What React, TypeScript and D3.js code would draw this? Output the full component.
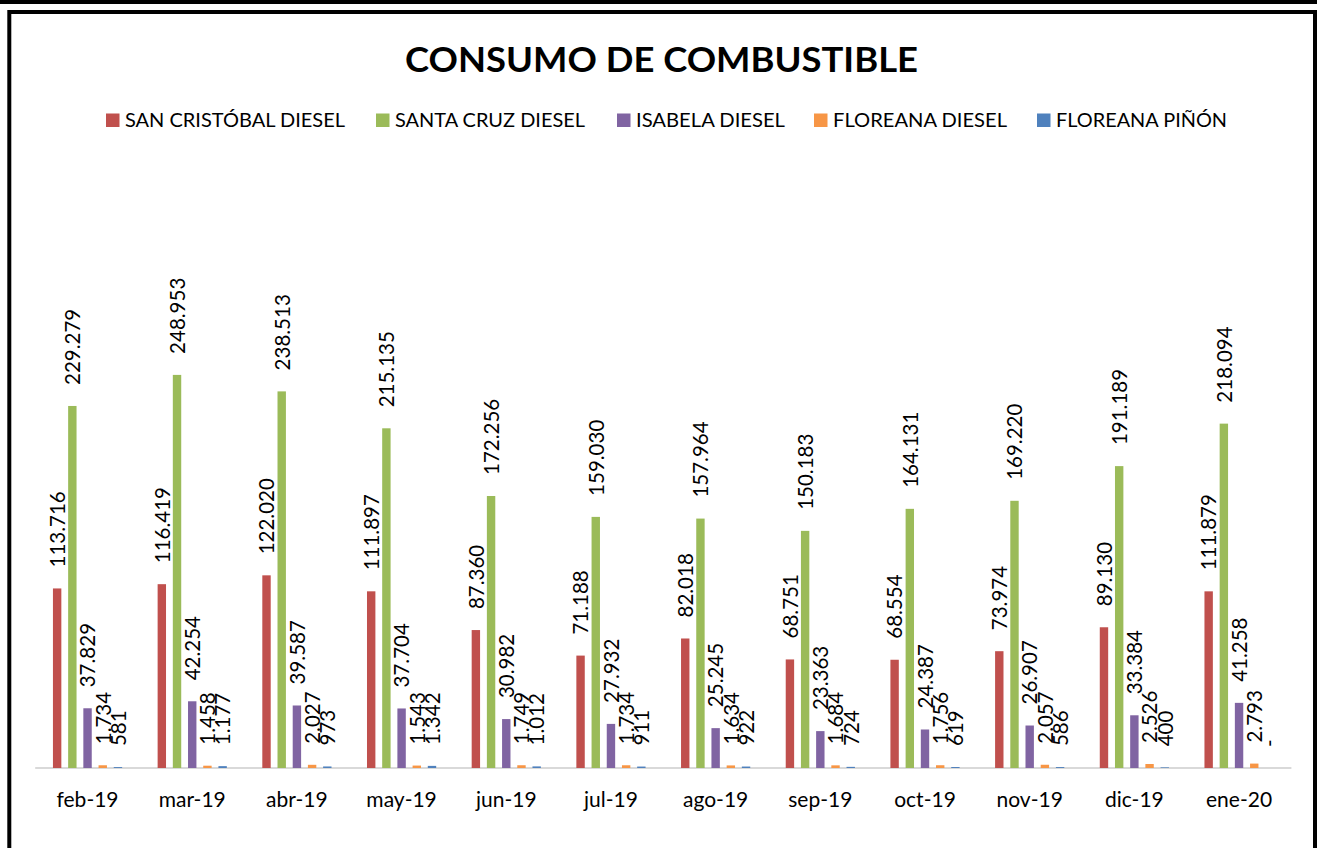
import React from "react";
import * as d3 from "d3";

const categories = ["feb-19", "mar-19", "abr-19", "may-19", "jun-19", "jul-19", "ago-19", "sep-19", "oct-19", "nov-19", "dic-19", "ene-20"];
const seriesNames = ["SAN CRISTÓBAL DIESEL", "SANTA CRUZ DIESEL", "ISABELA DIESEL", "FLOREANA DIESEL", "FLOREANA PIÑÓN"];
const seriesColors = ["#C0504D", "#9BBB59", "#8064A2", "#F79646", "#4F81BD"];
const sanCristobal = [113716, 116419, 122020, 111897, 87360, 71188, 82018, 68751, 68554, 73974, 89130, 111879];
const santaCruz = [229279, 248953, 238513, 215135, 172256, 159030, 157964, 150183, 164131, 169220, 191189, 218094];
const isabela = [37829, 42254, 39587, 37704, 30982, 27932, 25245, 23363, 24387, 26907, 33384, 41258];
const floreanaDiesel = [1734, 1458, 2027, 1543, 1749, 1734, 1634, 1684, 1756, 2057, 2526, 2793];
const floreanaPinon = [581, 1177, 973, 1342, 1012, 911, 922, 724, 619, 586, 400, 0];
const seriesValues = [sanCristobal, santaCruz, isabela, floreanaDiesel, floreanaPinon];
const titleText = "CONSUMO DE COMBUSTIBLE";

// legend layout (pixel positions of the items as in the reference)
const legendSquareX = [106, 376, 617, 814, 1037];
const legendTextWidth = [220, 190, 149, 174, 171];

const W = 1317;
const H = 848;

const locale = d3.formatLocale({ decimal: ",", thousands: ".", grouping: [3], currency: ["$", ""] });
const fmt = locale.format(",d");
const labelText = (v: number) => (v === 0 ? "-" : fmt(v));

export default function App() {
  const baseY = 768;
  const x0 = d3.scaleBand<string>().domain(categories).range([35.2, 1291.4]).padding(0);
  const x1 = d3.scalePoint<number>().domain([0, 1, 2, 3, 4]).range([-30.4, 30.4]);
  const y = d3.scaleLinear().domain([0, 300000]).range([baseY, baseY - 473.7]);
  const barW = 8.4;
  const font = "Lato, 'Open Sans', sans-serif";

  return (
    <svg width={W} height={H} style={{ position: "absolute", left: 0, top: 0, background: "#fff" }} fontFamily={font}>
      <rect x={0} y={0} width={W} height={H} fill="#fff" />
      <rect x={0} y={0} width={W} height={4} fill="#000" />
      <rect x={9.3} y={12} width={1305.7} height={900} fill="none" stroke="#000" strokeWidth={4} />

      <text x={661.5} y={71.5} textAnchor="middle" fontSize={35} fontWeight={700} fill="#000"
        textLength={513} lengthAdjust="spacingAndGlyphs">{titleText}</text>

      {seriesNames.map((name, i) => (
        <g key={name}>
          <rect x={legendSquareX[i]} y={113.5} width={13.5} height={13.5} fill={seriesColors[i]} />
          <text x={legendSquareX[i] + 19} y={127.3} fontSize={19.5} fill="#000"
            textLength={legendTextWidth[i]} lengthAdjust="spacingAndGlyphs">{name}</text>
        </g>
      ))}

      <line x1={35.2} x2={1291.4} y1={baseY} y2={baseY} stroke="#D9D9D9" strokeWidth={1.8} />

      {categories.map((c, ci) => {
        const cx = (x0(c) as number) + x0.bandwidth() / 2;
        return (
          <g key={c}>
            {seriesValues.map((vals, si) => {
              const v = vals[ci];
              const bx = cx + (x1(si) as number);
              const top = y(v);
              return (
                <g key={si}>
                  <rect x={bx - barW / 2} y={top} width={barW} height={baseY - top} fill={seriesColors[si]} />
                  <text transform={`translate(${bx},${top - 21}) rotate(-90)`} dy="0.38em" fontSize={20.5} fill="#000">
                    {labelText(v)}
                  </text>
                </g>
              );
            })}
            <text x={cx} y={807} textAnchor="middle" fontSize={21} fill="#000">{c}</text>
          </g>
        );
      })}
    </svg>
  );
}
